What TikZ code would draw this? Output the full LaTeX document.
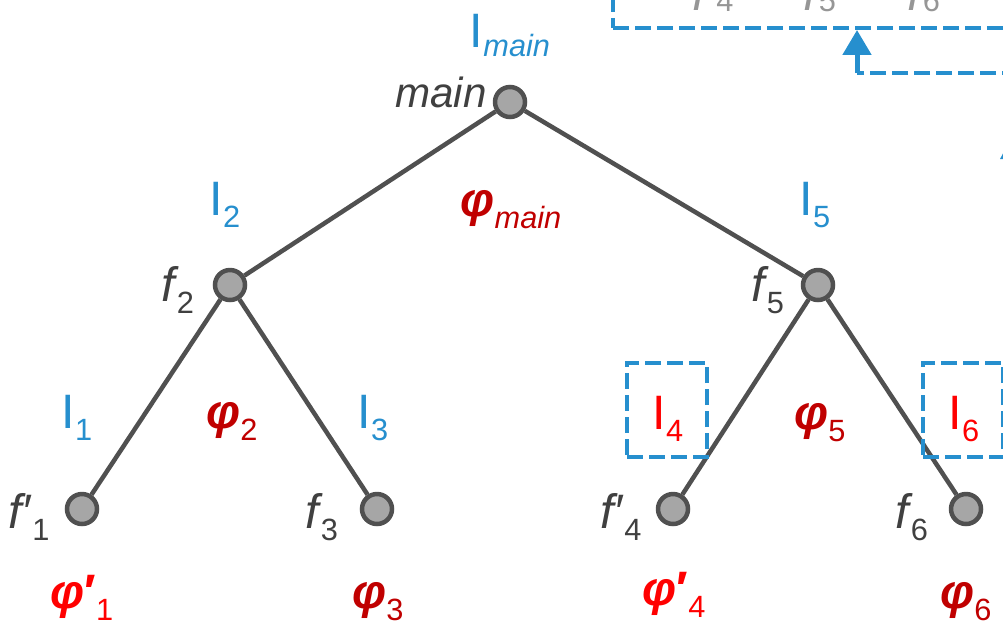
\documentclass[tikz,border=0pt]{standalone}
\usepackage{fontspec}
\setmainfont{Liberation Sans}
\usetikzlibrary{positioning,arrows.meta}

\definecolor{ink}{HTML}{505050}
\definecolor{nodegray}{HTML}{A6A6A6}
\definecolor{txtgray}{HTML}{404040}
\definecolor{paleg}{HTML}{969696}
\definecolor{iblue}{HTML}{268FCE}
\definecolor{dred}{HTML}{C00000}
\definecolor{bred}{HTML}{FF0000}

\newcommand{\lsub}[2][7pt]{\raisebox{-#1}{\fontsize{17.5}{18}\selectfont #2}}
\newcommand{\phib}{\textbf{\textit{φ}}}
\newcommand{\fn}{\textit{f}\kern-1.5pt}

\begin{document}
\begin{tikzpicture}[x=0.02cm,y=-0.02cm,
  font=\fontsize{27.5}{30}\selectfont,
  fnode/.style={circle,draw=ink,fill=nodegray,line width=0.09cm,minimum size=0.6cm,inner sep=0pt},
  ln/.style={draw=ink,line width=0.09cm},
  lab/.style={anchor=base,inner sep=0pt},
  flab/.style={lab,text=txtgray},
  ilab/.style={lab,text=iblue},
  rlab/.style={lab,text=bred},
  dlab/.style={lab,text=dred},
  dbox/.style={draw=iblue,line width=0.08cm,dash pattern=on 0.32cm off 0.12cm,minimum width=1.6cm,minimum height=1.88cm,inner sep=0pt},
  barrow/.style={draw=iblue,line width=0.1cm,-{Triangle[length=0.5cm,width=0.56cm]}}]
\useasboundingbox (0,0) rectangle (1003,623);

% tree nodes
\node[fnode] (main) at (510,102) {};
\node[fnode] (f2) at (230,285) {};
\node[fnode] (f5) at (818,285) {};
\node[fnode] (f1) at (82,509) {};
\node[fnode] (f3) at (377,509) {};
\node[fnode] (f4) at (673,509) {};
\node[fnode] (f6) at (966,509) {};
\draw[ln] (main) -- (f2);
\draw[ln] (main) -- (f5);
\draw[ln] (f2) -- (f1);
\draw[ln] (f2) -- (f3);
\draw[ln] (f5) -- (f4);
\draw[ln] (f5) -- (f6);

% function names
\node[flab,anchor=base east,font=\fontsize{24}{26}\selectfont\itshape] (nmain) at (487,107) {main};
\node[flab] (nf2) at (178,301) {\fn\lsub{2}};
\node[flab] (nf5) at (768,301) {\fn\lsub{5}};
\node[flab] (nf1) at (29,528) {\textit{f′}\lsub{1}};
\node[flab] (nf3) at (322,528) {\fn\lsub{3}};
\node[flab] (nf4) at (621,528) {\textit{f′}\lsub{4}};
\node[flab] (nf6) at (912,528) {\fn\lsub{6}};

% interfaces
\node[ilab] (Imain) at (510,47) {I\lsub[5.5pt]{\itshape main}};
\node[ilab] (I2) at (225,215) {I\lsub{2}};
\node[ilab] (I5) at (815,215) {I\lsub{5}};
\node[ilab] (I1) at (77,428) {I\lsub{1}};
\node[ilab] (I3) at (373,428) {I\lsub{3}};
\node[dbox] (box4) at (667,410) {};
\node[dbox] (box6) at (963,410) {};
\node[rlab] (I4) at (668,429) {I\lsub{4}};
\node[rlab] (I6) at (964,429) {I\lsub{6}};

% implementations
\node[dlab] (pmain) at (511,216) {\phib\lsub{\itshape main}};
\node[dlab] (p2) at (232,428) {\phib\lsub{2}};
\node[dlab] (p5) at (820,429) {\phib\lsub{5}};
\node[rlab] (p1) at (82,608) {\phib\textbf{′}\lsub{1}};
\node[dlab] (p3) at (378,608) {\phib\lsub{3}};
\node[rlab] (p4) at (674,605) {\phib\textbf{′}\lsub{4}};
\node[dlab] (p6) at (966,608) {\phib\lsub{6}};

% caller box (cut at the top)
\node[dbox,minimum width=10.74cm,minimum height=2.56cm] (callbox) at (881.5,-36) {};
\node[lab,text=paleg] (tf4) at (713,10) {\textit{f′}\lsub[1pt]{4}};
\node[lab,text=paleg] (tf5) at (820,10) {\fn\lsub[1pt]{5}};
\node[lab,text=paleg] (tf6) at (924,10) {\fn\lsub[1pt]{6}};
\coordinate (retin) at (1150,73);
\coordinate (bend) at (857,73);
\draw[dbox] (retin) -- (bend);
\draw[barrow] (bend) -- (bend |- callbox.south);
\fill[iblue] (1000,159) -- (1014,133) -- (1028,159) -- cycle;
\end{tikzpicture}
\end{document}
